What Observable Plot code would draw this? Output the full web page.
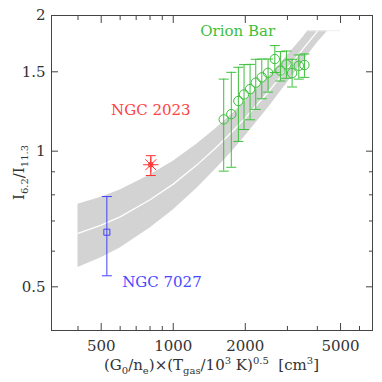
<!DOCTYPE html>
<html><head><meta charset="utf-8">
<script src="https://cdn.jsdelivr.net/npm/d3@7"></script>
<script src="https://cdn.jsdelivr.net/npm/@observablehq/plot@0.6"></script>
<style>body{margin:0;background:#fff}</style>
</head><body><div id="chart"></div>
<script>
// Orion Bar data
const orionX  = [1625, 1748, 1871, 1976, 2094, 2212, 2344, 2490, 2657, 2804, 2971, 3138, 3347, 3532];
const orionY  = [1.176, 1.208, 1.292, 1.336, 1.373, 1.419, 1.458, 1.492, 1.601, 1.509, 1.558, 1.490, 1.547, 1.553];
const orionLo = [0.903, 0.921, 1.051, 1.117, 1.174, 1.238, 1.307, 1.352, 1.495, 1.431, 1.451, 1.388, 1.445, 1.458];
const orionHi = [1.445, 1.496, 1.535, 1.556, 1.558, 1.599, 1.601, 1.601, 1.715, 1.663, 1.668, 1.599, 1.635, 1.643];
// NGC 2023 and NGC 7027
const ngc2023 = {x: 806, y: 0.933, lo: 0.883, hi: 0.977};
const ngc7027 = {x: 528, y: 0.661, lo: 0.529, hi: 0.793};
// model band and curve
const bandX    = [400, 500, 600, 800, 1000, 1250, 1500, 1750, 2000, 2500, 3000, 3500, 3650, 4000, 4430];
const bandHigh = [0.762, 0.79, 0.82, 0.885, 0.95, 1.035, 1.12, 1.205, 1.29, 1.46, 1.63, 1.795, 1.85, 1.85, 1.85];
const bandLow  = [0.552, 0.58, 0.61, 0.675, 0.74, 0.825, 0.91, 0.995, 1.08, 1.25, 1.42, 1.585, 1.635, 1.74, 1.85];
const lineX = [400, 500, 600, 800, 1000, 1250, 1500, 1750, 2000, 2500, 3000, 3500, 4000];
const lineY = [0.657, 0.685, 0.715, 0.78, 0.845, 0.93, 1.015, 1.10, 1.185, 1.355, 1.525, 1.69, 1.845];
const capLine = {x1: 3650, x2: 5000, y: 1.85};
// ticks
const xMajor = [500, 1000, 2000, 5000];
const xMinor = [400, 600, 700, 800, 900, 3000, 4000, 6000];
const yMajor = [0.5, 1, 1.5, 2];
const yMinor = [0.6, 0.7, 0.8, 0.9];
// labels
const labels = [
  {x: 806, y: 1.231, text: "NGC 2023", color: "#ff4242", font: "DejaVu Serif"},
  {x: 897, y: 0.512, text: "NGC 7027", color: "#4848ff", font: "DejaVu Serif"},
  {x: 1860, y: 1.845, text: "Orion Bar", color: "#3cc03c", font: "Liberation Mono"}
];

const green = "#3cc03c", red = "#ff3030", blue = "#4040ff";
const capSym = {draw(ctx, size) { const w = Math.sqrt(size / Math.PI); ctx.moveTo(-w, 0); ctx.lineTo(w, 0); }};

const orion = orionX.map((x, i) => ({x, y: orionY[i], lo: orionLo[i], hi: orionHi[i]}));
const band = bandX.map((x, i) => ({x, lo: bandLow[i], hi: bandHigh[i]}));
const line = lineX.map((x, i) => ({x, y: lineY[i]}));
const errs = [
  ...orion.map(d => ({...d, c: green})),
  {...ngc2023, c: red},
  {...ngc7027, c: blue}
];
const caps = errs.flatMap(d => [{x: d.x, y: d.lo, c: d.c}, {x: d.x, y: d.hi, c: d.c}]);
const axisColor = "#444";
const noText = () => "";

const plot = Plot.plot({
  width: 382, height: 382,
  marginLeft: 51, marginRight: 10, marginTop: 15, marginBottom: 52,
  style: {fontFamily: "DejaVu Serif", fontSize: "15px", color: "#333", background: "#fff"},
  x: {type: "log", domain: [310, 6800]},
  y: {type: "log", domain: [0.4, 2]},
  marks: [
    Plot.areaY(band, {x: "x", y1: "lo", y2: "hi", fill: "#d3d3d3"}),
    Plot.ruleY([capLine], {x1: "x1", x2: "x2", y: "y", stroke: "#eeeeee", strokeWidth: 1}),
    Plot.line(line, {x: "x", y: "y", stroke: "#fff", strokeWidth: 1.3}),
    Plot.ruleX(errs, {x: "x", y1: "lo", y2: "hi", stroke: "c", strokeWidth: 1}),
    Plot.dot(caps, {x: "x", y: "y", symbol: capSym, r: 5, stroke: "c", strokeWidth: 1}),
    Plot.dot(orion, {x: "x", y: "y", r: 4.7, stroke: green, fill: "none", strokeWidth: 1}),
    Plot.dot([ngc7027], {x: "x", y: "y", symbol: "square", r: 3.4, stroke: blue, fill: "none", strokeWidth: 1}),
    Plot.dot([ngc2023], {x: "x", y: "y", symbol: "plus", r: 5, stroke: red, strokeWidth: 1}),
    Plot.dot([ngc2023], {x: "x", y: "y", symbol: "times", r: 5, stroke: red, strokeWidth: 1}),
    Plot.dot([ngc2023], {x: "x", y: "y", symbol: "square", r: 2.2, stroke: red, fill: "none", strokeWidth: 1}),
    Plot.text(labels, {x: "x", y: "y", text: "text", fill: d => d.color, fontFamily: d => d.font, fontSize: 15}),
    Plot.frame({stroke: axisColor}),
    // inward ticks
    Plot.axisX(xMajor, {anchor: "bottom", tickSize: -7, tickFormat: noText, stroke: axisColor, label: null}),
    Plot.axisX(xMinor, {anchor: "bottom", tickSize: -4, tickFormat: noText, stroke: axisColor, label: null}),
    Plot.axisX(xMajor, {anchor: "top", tickSize: -7, tickFormat: noText, stroke: axisColor, label: null}),
    Plot.axisX(xMinor, {anchor: "top", tickSize: -4, tickFormat: noText, stroke: axisColor, label: null}),
    Plot.axisY(yMajor, {anchor: "left", tickSize: -7, tickFormat: noText, stroke: axisColor, label: null}),
    Plot.axisY(yMinor, {anchor: "left", tickSize: -4, tickFormat: noText, stroke: axisColor, label: null}),
    Plot.axisY(yMajor, {anchor: "right", tickSize: -7, tickFormat: noText, stroke: axisColor, label: null}),
    Plot.axisY(yMinor, {anchor: "right", tickSize: -4, tickFormat: noText, stroke: axisColor, label: null}),
    // tick labels
    Plot.text(xMajor, {x: d => d, frameAnchor: "bottom", dy: 16, lineAnchor: "middle", text: d => String(d), fill: "#333", fontSize: 15}),
    Plot.text(yMajor, {y: d => d, frameAnchor: "left", dx: -6, textAnchor: "end", text: d => String(d), fill: "#333", fontSize: 15})
  ]
});
document.getElementById("chart").appendChild(plot);

// axis titles with sub/superscripts
const svg = d3.select(plot);
const xt = svg.append("text")
  .attr("x", 211.5).attr("y", 370).attr("text-anchor", "middle")
  .attr("font-family", "DejaVu Serif").attr("font-size", 15).attr("fill", "#333");
const parts = [
  ["(G", 0], ["0", 1], ["/n", 0], ["e", 1], [")×(T", 0], ["gas", 1], ["/10", 0], ["3", -1], [" K)", 0], ["0.5", -1], ["  [cm", 0], ["3", -1], ["]", 0]
];
let prev = 0;
parts.forEach(([t, s]) => {
  const ts = xt.append("tspan").text(t);
  if (s !== 0) ts.attr("font-size", 10);
  const base = s === 1 ? 4 : s === -1 ? -6 : 0;
  const undo = prev === 1 ? -4 : prev === -1 ? 6 : 0;
  if (base + undo !== 0) ts.attr("dy", base + undo);
  prev = s;
});

const yt = svg.append("text")
  .attr("transform", "translate(24,172.5) rotate(-90)").attr("text-anchor", "middle")
  .attr("font-family", "DejaVu Serif").attr("font-size", 15).attr("fill", "#333");
const yparts = [["I", 0], ["6.2", 1], ["/I", 0], ["11.3", 1]];
yparts.forEach(([t, s], i) => {
  const ts = yt.append("tspan").text(t);
  if (s === 1) ts.attr("font-size", 10).attr("dy", 4);
  else if (i > 0) ts.attr("dy", -4);
});
</script>
</body></html>
